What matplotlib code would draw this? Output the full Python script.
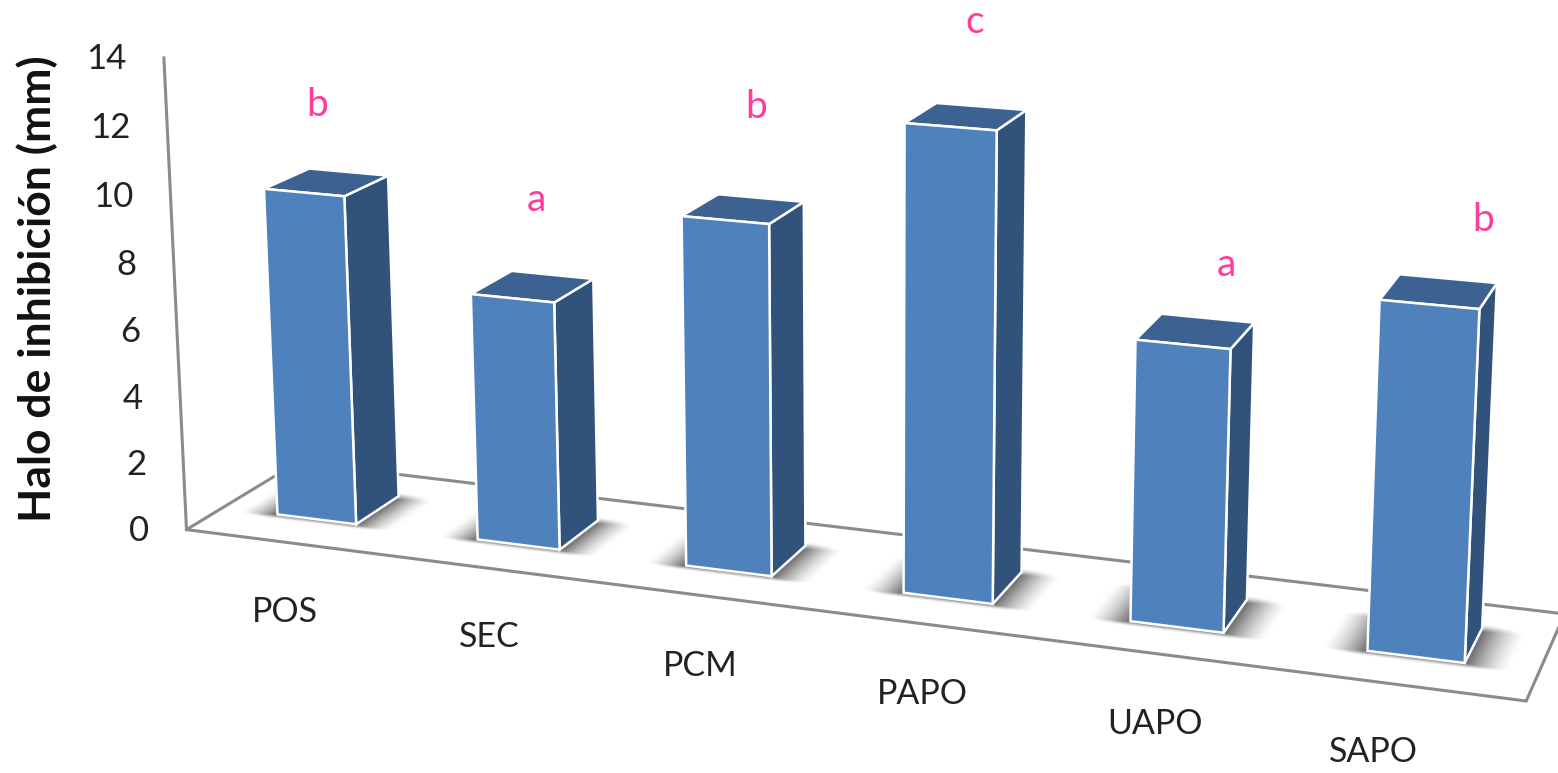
"""Perspective 3D column chart of inhibition halo per treatment, drawn on a flat pixel axes."""
import matplotlib
import numpy as np

matplotlib.use("Agg")
import matplotlib.pyplot as plt
from matplotlib.colors import LinearSegmentedColormap
from matplotlib.patches import Polygon

plt.rcParams["font.family"] = ["Lato", "DejaVu Sans"]

CATEGORIES = ["POS", "SEC", "PCM", "PAPO", "UAPO", "SAPO"]
HALO_MM = [9.88, 7.35, 10.2, 13.34, 7.94, 9.66]
SIGNIFICANCE = ["b", "a", "b", "c", "a", "b"]
Y_TICKS = [0, 2, 4, 6, 8, 10, 12, 14]

W, H = 1558, 773
# column footprint in floor units: u runs along the categories, v is depth
HALF_W, V_FRONT, V_BACK, U_START, U_STEP = 0.1998, 0.315, 0.7223, 0.4807, 1.0039

# 3x4 camera matrix taking (u, v, z in mm) to pixels
CAM = np.array([
    [192.445814937, 129.117343161, -1.984803493, 186.485436091],
    [14.397161021, -39.078888814, -33.824668216, 529.61114949],
    [-0.020210332, 0.060942276, -0.002272831, 1.0],
])

# hand placed text anchors in pixels
LETTER_POS = [(317, 105), (536, 200), (756, 107), (975, 22), (1226, 265), (1483, 220)]
CAT_POS = [(285, 612), (489, 637), (700, 666), (922, 694), (1155, 724), (1373, 752)]

SHADOW = LinearSegmentedColormap.from_list("shadow", ["#ffffff", "#6a6a6a"])


def project(u, v, z):
    u, v, z = np.broadcast_arrays(u, v, z)
    p = CAM @ np.stack([u.ravel(), v.ravel(), z.ravel(), np.ones(u.size)])
    return (p[0] / p[2]).reshape(u.shape), (p[1] / p[2]).reshape(u.shape)


def face(*corners):
    return [tuple(float(a) for a in project(*c)) for c in corners]


def draw_shadow(ax, u0, u1):
    # soft contact shadow on the floor, strongest against the column base
    uu, vv = np.meshgrid(np.linspace(u0 - 0.2, u1 + 0.2, 60), np.linspace(V_FRONT - 0.08, V_BACK + 0.1, 60))
    dx = np.maximum(np.maximum(u0 - uu, uu - u1), 0) / 0.18
    dy = np.maximum(np.maximum((V_FRONT - vv) / 0.05, (vv - (V_BACK - 0.04)) / 0.09), 0)
    s = np.clip(1 - np.hypot(dx, dy), 0, 1) ** 1.4
    x, y = project(uu, vv, 0.0)
    ax.pcolormesh(x, y, s, cmap=SHADOW, vmin=0, vmax=1, shading="gouraud", zorder=0.5)


fig = plt.figure(figsize=(W / 100, H / 100), dpi=100)
ax = fig.add_axes([0, 0, 1, 1])

# floor outline and the value axis
grey = "#8b8b8b"
ax.add_patch(Polygon(face((0, 0, 0), (6, 0, 0), (6, 1, 0), (0, 1, 0)), closed=True, fill=False,
                     ec=grey, lw=2.2, zorder=1))
ax.plot(*zip(*face((0, 0, 0), (0, 0, 14))), color=grey, lw=2.2, zorder=1)

for t in Y_TICKS:
    x, y = project(0, 0, t)
    ax.text(x - 37, y + 1, str(t), ha="right", va="center", fontsize=25, color="#222222")

ax.text(37, 289, "Halo de inhibición (mm)", rotation=90, ha="center", va="center",
        fontsize=32, fontweight="bold", color="#111111")

for i, h in enumerate(HALO_MM):
    c = U_START + i * U_STEP
    u0, u1 = c - HALF_W, c + HALF_W
    draw_shadow(ax, u0, u1)
    ax.add_patch(Polygon(face((u1, V_FRONT, 0), (u1, V_BACK, 0), (u1, V_BACK, h), (u1, V_FRONT, h)),
                         closed=True, fc="#31527a", ec="white", lw=1.8, zorder=3))
    ax.add_patch(Polygon(face((u0, V_FRONT, h), (u1, V_FRONT, h), (u1, V_BACK, h), (u0, V_BACK, h)),
                         closed=True, fc="#3c6291", ec="white", lw=1.8, zorder=3))
    ax.add_patch(Polygon(face((u0, V_FRONT, 0), (u1, V_FRONT, 0), (u1, V_FRONT, h), (u0, V_FRONT, h)),
                         closed=True, fc="#4f81bd", ec="white", lw=1.8, zorder=4))

for (x, y), s in zip(LETTER_POS, SIGNIFICANCE):
    ax.text(x, y, s, ha="center", va="center", fontsize=28, color="#ff3b9d")
for (x, y), s in zip(CAT_POS, CATEGORIES):
    ax.text(x, y, s, ha="center", va="center", fontsize=24.5, color="#222222")

ax.set_xlim(0, W); ax.set_ylim(H, 0); ax.axis("off")
fig.savefig("out.png", dpi=100)
